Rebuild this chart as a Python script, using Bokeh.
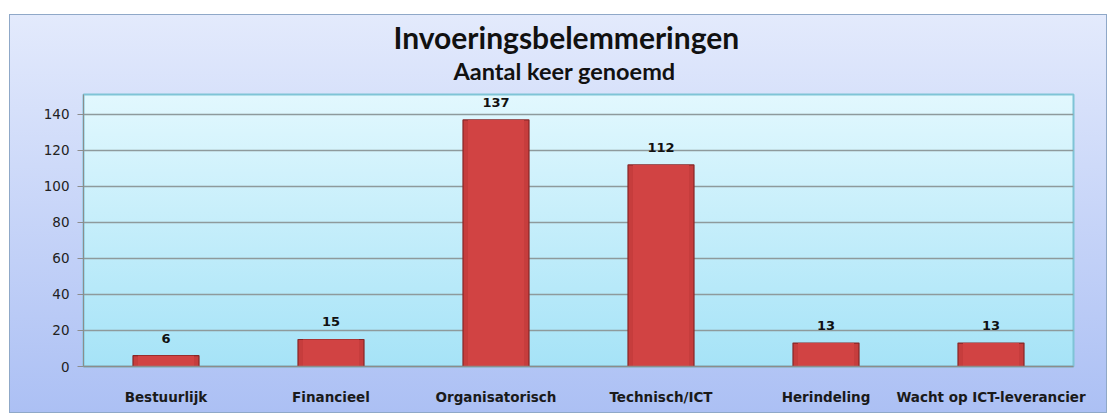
from bokeh.plotting import figure
from bokeh.models import ColumnDataSource, Range1d, FactorRange, Title, SingleIntervalTicker, Spacer
from bokeh.layouts import column, row
from bokeh.core.properties import value
from bokeh.embed import file_html
from bokeh.resources import INLINE

categories = ["Bestuurlijk", "Financieel", "Organisatorisch", "Technisch/ICT", "Herindeling", "Wacht op ICT-leverancier"]
counts = [6, 15, 137, 112, 13, 13]
title_text = "Invoeringsbelemmeringen"
subtitle_text = "Aantal keer genoemd"

source = ColumnDataSource(dict(cat=categories, val=counts, lbl=[str(v) for v in counts]))

W, H = 1098, 399
ML, MR, MT, MB = 73, 35, 79, 48
FW, FH = W - ML - MR, H - MT - MB

p = figure(x_range=FactorRange(*categories), y_range=Range1d(0, 151.1),
           width=W, height=H, output_backend="svg", toolbar_location=None,
           min_border_left=ML, min_border_right=MR, min_border_top=MT, min_border_bottom=MB)
p.background_fill_color = None
p.border_fill_color = None
p.styles = {
    "background": (f"linear-gradient(#E2F8FE, #A6E3F7) {ML}px {MT}px / {FW}px {FH}px no-repeat, "
                   "linear-gradient(#E3EAFC, #ACC0F4)"),
    "border": "1px solid #8FA8C8",
}
p.outline_line_color = "#7FC4D6"
p.outline_line_width = 2

# bars
p.vbar(x="cat", top="val", width=0.4, source=source, fill_color="#C63D3D", line_color="#862626", line_width=1.2)
p.vbar(x="cat", top="val", width=0.34, source=source, fill_color="#D14343", line_color=None)

p.text(x="cat", y="val", text="lbl", source=source, text_align="center", text_baseline="bottom",
       y_offset=-13, text_font=value("DejaVu Sans"), text_font_style="bold", text_font_size="13px",
       text_color="#111111")

# axes
p.yaxis.ticker = SingleIntervalTicker(interval=20)
p.yaxis.minor_tick_line_color = None
p.yaxis.major_tick_out = 6
p.yaxis.major_tick_in = 0
p.yaxis.axis_line_color = "#8C8C8C"
p.yaxis.major_tick_line_color = "#8C8C8C"
p.yaxis.major_label_text_font = "DejaVu Sans"
p.yaxis.major_label_text_font_size = "13.5px"
p.yaxis.major_label_text_color = "#222222"
p.yaxis.major_label_standoff = 8

p.xaxis.axis_line_color = "#8C8C8C"
p.xaxis.axis_line_width = 1.5
p.xaxis.major_tick_line_color = None
p.xaxis.major_label_text_font = "DejaVu Sans"
p.xaxis.major_label_text_font_style = "bold"
p.xaxis.major_label_text_font_size = "13.5px"
p.xaxis.major_label_text_color = "#1A1A1A"
p.xaxis.major_label_standoff = 16

p.xgrid.grid_line_color = None
p.ygrid.grid_line_color = "#8E9A9C"
p.ygrid.grid_line_width = 1.3

# small empty panel to keep the subtitle clear of the plot area
p.add_layout(Title(text="\u00a0", standoff=0, text_font="Lato", text_font_size="7px"), "above")
p.add_layout(Title(text=subtitle_text, align="left", offset=370, standoff=0, text_font="Lato",
                   text_font_style="bold", text_font_size="23.5px", text_color="#111111"), "above")
p.add_layout(Title(text=title_text, align="left", offset=310, standoff=0, text_font="Lato",
                   text_font_style="bold", text_font_size="30px", text_color="#111111"), "above")

layout = row(Spacer(width=9), column(Spacer(height=14), p, spacing=0), spacing=0)
open("out.html", "w").write(file_html(layout, INLINE))
